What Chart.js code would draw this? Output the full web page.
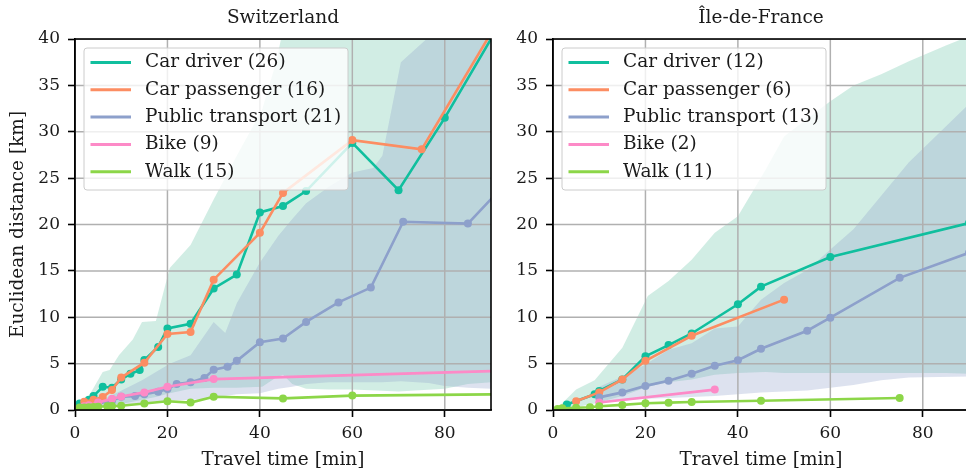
<!DOCTYPE html>
<html>
<head>
<meta charset="utf-8">
<script src="https://cdn.jsdelivr.net/npm/chart.js@4.4.1/dist/chart.umd.min.js"></script>
<style>
  html, body { margin: 0; padding: 0; background: #fff; overflow: hidden; }
  #wrap { position: relative; width: 966px; height: 476px; overflow: hidden; }
  canvas { position: absolute; top: 0; }
  #left { left: 0; }
  #right { left: 500px; }
</style>
</head>
<body>
<div id="wrap">
  <canvas id="left" width="500" height="476" style="width:500px;height:476px"></canvas>
  <canvas id="right" width="480" height="476" style="width:480px;height:476px"></canvas>
</div>
<script>
const modes = ['Car driver', 'Car passenger', 'Public transport', 'Bike', 'Walk']
const lineColors = ['#10bf9e', '#fc8d62', '#8da0cb', '#fd8ac7', '#8cd648']
const xTicks = [0, 20, 40, 60, 80]
const yTicks = [0, 5, 10, 15, 20, 25, 30, 35, 40]

// Switzerland
const chCounts = [26, 16, 21, 9, 15]
const chDriverX = [1, 3, 4, 6, 8, 10, 12, 14, 15, 18, 20, 25, 30, 35, 40, 45, 50, 60, 70, 80, 100]
const chDriverY = [0.7, 1.1, 1.5, 2.5, 2.4, 3.3, 3.9, 4.3, 5.4, 6.8, 8.8, 9.3, 13.1, 14.6, 21.3, 22.0, 23.6, 28.8, 23.7, 31.5, 48.5]
const chPassX = [2, 4, 6, 8, 10, 15, 20, 25, 30, 40, 45, 60, 75, 100]
const chPassY = [0.9, 1.1, 1.4, 2.15, 3.5, 5.1, 8.2, 8.4, 14.05, 19.1, 23.4, 29.1, 28.1, 49]
const chPtX = [5, 8, 10, 13, 15, 18, 20, 22, 25, 28, 30, 33, 35, 40, 45, 50, 57, 64, 71, 85, 100]
const chPtY = [0.7, 1.0, 1.43, 1.5, 1.7, 1.97, 2.26, 2.8, 3.0, 3.45, 4.35, 4.66, 5.3, 7.3, 7.7, 9.5, 11.6, 13.2, 20.3, 20.1, 28]
const chBikeX = [2, 3, 5, 8, 10, 15, 20, 30, 100]
const chBikeY = [0.4, 0.5, 0.8, 1.2, 1.45, 1.9, 2.5, 3.33, 4.33]
const chWalkX = [1, 2, 3, 4, 5, 7, 8, 10, 15, 20, 25, 30, 45, 60, 100]
const chWalkY = [0.26, 0.28, 0.3, 0.32, 0.35, 0.4, 0.42, 0.45, 0.7, 0.95, 0.8, 1.43, 1.25, 1.55, 1.73]

const chCarBandX = [0.5, 3, 6, 7.5, 9.5, 12.5, 14.5, 17.5, 20.5, 25, 30, 35, 40.5, 43.5, 45, 47, 50, 55, 60, 70, 80, 85, 90]
const chCarUpper = [0, 1.5, 4.1, 4.3, 5.9, 7.6, 9.5, 9.6, 15.3, 17.8, 22.7, 27.4, 32.4, 37.5, 41, 43, 46, 50, 54, 60, 66, 69, 72]
const chCarLower = [0, 0.2, 0.4, 0.5, 0.6, 0.9, 1.1, 1.4, 1.8, 2.3, 2.4, 2.4, 2.5, 3.5, 3.8, 2.8, 2.3, 2.2, 2.2, 2.0, 2.3, 2.8, 3.0]
const chPtBandX = [0.5, 6, 10.5, 14.5, 20.5, 25, 30, 32.5, 35, 40, 44, 47, 50, 55, 60, 64.5, 66.5, 70.5, 76.5, 80, 85, 90]
const chPtUpper = [0, 1.1, 2.2, 3.2, 5.0, 5.9, 9.5, 8.3, 11.5, 15.9, 18.8, 20.6, 22.3, 24.1, 25.6, 26.1, 27.4, 37.5, 40.2, 42, 44, 46]
const chPtLower = [0, 0.3, 0.5, 0.8, 1.0, 1.1, 1.2, 1.5, 1.7, 1.8, 2.3, 2.5, 2.8, 3.0, 3.0, 3.0, 3.0, 3.1, 2.9, 2.6, 2.4, 2.3]

// Ile-de-France
const idfCounts = [12, 6, 13, 2, 11]
const idfDriverX = [3, 9, 10, 15, 20, 25, 30, 40, 45, 60, 90]
const idfDriverY = [0.6, 1.7, 2.05, 3.3, 5.8, 7.0, 8.25, 11.4, 13.3, 16.5, 20.15]
const idfPassX = [5, 10, 15, 20, 30, 50]
const idfPassY = [0.95, 1.9, 3.3, 5.3, 8.0, 11.9]
const idfPtX = [10, 15, 20, 25, 30, 35, 40, 45, 55, 60, 75, 90]
const idfPtY = [1.36, 1.9, 2.6, 3.15, 3.9, 4.77, 5.37, 6.6, 8.55, 9.95, 14.25, 16.95]
const idfBikeX = [10, 35]
const idfBikeY = [0.8, 2.2]
const idfWalkX = [1, 2, 5, 8, 10, 15, 20, 25, 30, 45, 75]
const idfWalkY = [0.1, 0.18, 0.25, 0.3, 0.4, 0.55, 0.72, 0.79, 0.86, 1.0, 1.29]

const idfCarBandX = [0.5, 5, 9, 15, 20.5, 25, 30, 35, 40, 46, 50, 55, 60, 65, 71, 77, 85, 90]
const idfCarUpper = [0, 2.2, 3.2, 6.7, 12.3, 13.9, 16.2, 19.1, 20.9, 25.9, 29.5, 31.4, 33.3, 35.0, 36.2, 37.6, 39.3, 40.3]
const idfCarLower = [0, 0.3, 0.7, 1.5, 2.5, 3.0, 3.3, 3.8, 4.0, 4.1, 4.0, 4.0, 4.0, 4.0, 4.0, 4.0, 4.0, 3.9]
const idfPtBandX = [10, 15, 20, 25, 30, 35, 40, 45, 50, 55, 60, 65, 71, 77, 90]
const idfPtUpper = [2.5, 3.6, 4.9, 6.5, 7.2, 8.8, 9.0, 11.9, 13.7, 15.1, 17.3, 19.5, 23.1, 26.7, 33]
const idfPtLower = [0.8, 1.0, 1.2, 1.3, 1.4, 1.5, 1.7, 1.9, 2.0, 2.1, 2.4, 2.7, 3.2, 3.5, 3.6]

const carBandColor = 'rgba(102, 194, 165, 0.3)'
const ptBandColor = 'rgba(141, 160, 203, 0.3)'
const textColor = '#1a1a1a'
const serif = 'DejaVu Serif'

const pts = (xs, ys) => xs.map((x, i) => ({ x, y: ys[i] }))

// matplotlib puts the grid above the shaded bands, below the lines
const gridAbove = {
  id: 'gridAbove',
  afterDatasetDraw(chart, args) {
    if (args.index !== 5) return
    const { ctx, chartArea: a, scales } = chart
    ctx.save()
    ctx.beginPath()
    ctx.rect(a.left, a.top, a.right - a.left, a.bottom - a.top)
    ctx.clip()
    ctx.strokeStyle = '#b0b0b0'
    ctx.lineWidth = 1.5
    xTicks.forEach(v => {
      const px = scales.x.getPixelForValue(v)
      ctx.beginPath(); ctx.moveTo(px, a.top); ctx.lineTo(px, a.bottom); ctx.stroke()
    })
    yTicks.forEach(v => {
      const py = scales.y.getPixelForValue(v)
      ctx.beginPath(); ctx.moveTo(a.left, py); ctx.lineTo(a.right, py); ctx.stroke()
    })
    ctx.restore()
  }
}

const frameAndLegend = {
  id: 'frameAndLegend',
  afterDatasetsDraw(chart, args, opts) {
    const { ctx, chartArea: a } = chart
    ctx.save()
    ctx.strokeStyle = '#000'
    ctx.lineWidth = 1.6
    ctx.strokeRect(a.left, a.top, a.right - a.left, a.bottom - a.top)

    const x0 = a.left + 9, y0 = a.top + 9, w = 264, h = 142
    ctx.beginPath()
    ctx.roundRect(x0, y0, w, h, 3)
    ctx.fillStyle = 'rgba(255,255,255,0.8)'
    ctx.fill()
    ctx.strokeStyle = '#cccccc'
    ctx.lineWidth = 1
    ctx.stroke()

    ctx.font = '18.5px "' + serif + '"'
    ctx.textBaseline = 'middle'
    ctx.textAlign = 'left'
    modes.forEach((m, i) => {
      const y = y0 + 14.5 + i * 27.3
      ctx.strokeStyle = lineColors[i]
      ctx.lineWidth = 3
      ctx.beginPath(); ctx.moveTo(x0 + 6.5, y); ctx.lineTo(x0 + 47, y); ctx.stroke()
      ctx.fillStyle = textColor
      ctx.fillText(m + ' (' + opts.counts[i] + ')', x0 + 61, y)
    })
    ctx.restore()
  }
}

function lineSet(i, data) {
  return {
    label: modes[i],
    data,
    borderColor: lineColors[i],
    backgroundColor: lineColors[i],
    borderWidth: 2.6,
    pointRadius: 4,
    pointHoverRadius: 4,
    pointBorderWidth: 0,
    fill: false,
    clip: 0
  }
}

function bandSet(data, color, upper) {
  return {
    data,
    borderWidth: 0,
    pointRadius: 0,
    backgroundColor: color,
    fill: upper ? '+1' : false,
    clip: 0
  }
}

function makeChart(id, cfg) {
  const tickFont = { family: serif, size: 17 }
  const labelFont = { family: serif, size: 18.5 }
  return new Chart(document.getElementById(id), {
    type: 'line',
    data: {
      datasets: [
        // first dataset is drawn on top
        lineSet(4, cfg.walk),
        lineSet(3, cfg.bike),
        lineSet(2, cfg.pt),
        lineSet(1, cfg.pass),
        lineSet(0, cfg.driver),
        bandSet(cfg.ptUpper, ptBandColor, true),
        bandSet(cfg.ptLower, ptBandColor, false),
        bandSet(cfg.carUpper, carBandColor, true),
        bandSet(cfg.carLower, carBandColor, false)
      ]
    },
    options: {
      responsive: false,
      animation: false,
      devicePixelRatio: 1,
      layout: { padding: { left: 0, right: cfg.padRight, top: 0, bottom: 0 } },
      plugins: {
        legend: { display: false },
        tooltip: { enabled: false },
        title: {
          display: true,
          text: cfg.title,
          fullSize: false,
          color: textColor,
          font: { family: serif, size: 18.5, weight: 'normal' },
          padding: { top: 6.9, bottom: 9.9 }
        },
        frameAndLegend: { counts: cfg.counts }
      },
      scales: {
        x: {
          type: 'linear',
          min: 0,
          max: 90,
          afterBuildTicks: s => { s.ticks = xTicks.map(v => ({ value: v })) },
          afterFit: s => { s.height = 66 },
          grid: { color: 'rgba(0,0,0,0)', tickColor: '#000', tickLength: 7, tickWidth: 1.6 },
          border: { color: '#000', width: 1.6 },
          ticks: { font: tickFont, color: textColor, padding: 6, maxRotation: 0 },
          title: { display: true, text: 'Travel time [min]', font: labelFont, color: textColor, padding: { top: 0, bottom: 4.8 } }
        },
        y: {
          type: 'linear',
          min: 0,
          max: 40,
          afterBuildTicks: s => { s.ticks = yTicks.map(v => ({ value: v })) },
          afterFit: s => { s.width = cfg.yWidth },
          grid: { color: 'rgba(0,0,0,0)', tickColor: '#000', tickLength: 7, tickWidth: 1.6 },
          border: { color: '#000', width: 1.6 },
          ticks: { font: tickFont, color: textColor, padding: 8 },
          title: { display: cfg.yTitle, text: 'Euclidean distance [km]', font: labelFont, color: textColor, padding: { top: 6.8, bottom: 0 } }
        }
      }
    },
    plugins: [gridAbove, frameAndLegend]
  })
}

makeChart('left', {
  title: 'Switzerland',
  counts: chCounts,
  yTitle: true,
  yWidth: 75,
  padRight: 9,
  driver: pts(chDriverX, chDriverY),
  pass: pts(chPassX, chPassY),
  pt: pts(chPtX, chPtY),
  bike: pts(chBikeX, chBikeY),
  walk: pts(chWalkX, chWalkY),
  carUpper: pts(chCarBandX, chCarUpper),
  carLower: pts(chCarBandX, chCarLower),
  ptUpper: pts(chPtBandX, chPtUpper),
  ptLower: pts(chPtBandX, chPtLower)
})

makeChart('right', {
  title: 'Île-de-France',
  counts: idfCounts,
  yTitle: false,
  yWidth: 53,
  padRight: 11,
  driver: pts(idfDriverX, idfDriverY),
  pass: pts(idfPassX, idfPassY),
  pt: pts(idfPtX, idfPtY),
  bike: pts(idfBikeX, idfBikeY),
  walk: pts(idfWalkX, idfWalkY),
  carUpper: pts(idfCarBandX, idfCarUpper),
  carLower: pts(idfCarBandX, idfCarLower),
  ptUpper: pts(idfPtBandX, idfPtUpper),
  ptLower: pts(idfPtBandX, idfPtLower)
})
</script>
</body>
</html>
